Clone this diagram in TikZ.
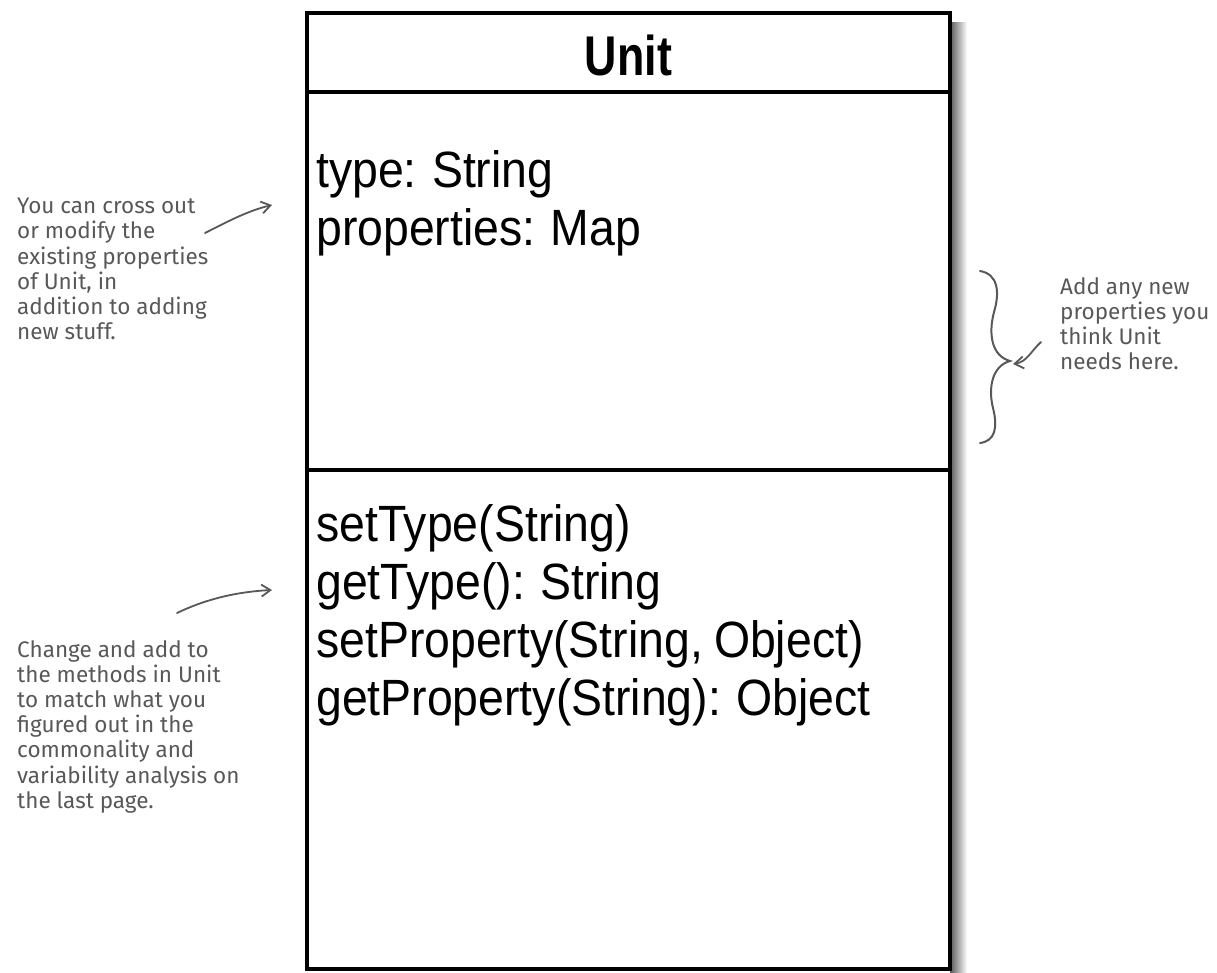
\documentclass[tikz,border=0pt]{standalone}
\usepackage{fontspec}
\setmainfont{Liberation Sans}
\newfontfamily\umlfont[FakeStretch=0.91,WordSpace=0.85]{Liberation Sans}
\newfontfamily\umltitlefont[FakeStretch=0.8]{Liberation Sans}
\newfontfamily\notefont{Fira Sans}
\usetikzlibrary{arrows.meta}
\definecolor{notegray}{RGB}{88,88,88}
\begin{document}
\begin{tikzpicture}[x=1pt,y=-1pt,>={Straight Barb[length=9pt,width=12pt]},
  member/.style={anchor=base west,inner sep=0pt,font=\umlfont\fontsize{51}{58}\selectfont},
  note/.style={anchor=north west,align=left,inner sep=0pt,text=notegray,
    font=\notefont\fontsize{22.5}{25.2}\selectfont},
  note arrow/.style={->,draw=notegray,line width=1.8pt,line cap=round}]
\useasboundingbox (0,0) rectangle (1217,972);
% class box with its shadow
\shade[left color=black!65,right color=white] (950,22) rectangle (967,972);
\fill[white] (307,13) rectangle (950,969);
\draw[line width=4pt] (307,13) rectangle (950,969);
\draw[line width=4pt] (307,92) -- (950,92);
\draw[line width=4pt] (307,470) -- (950,470);
\node[anchor=base,inner sep=0pt,font=\umltitlefont\bfseries\fontsize{56}{60}\selectfont]
  (unitTitle) at (628.5,75) {Unit};
% attributes
\foreach \t [count=\i] in {{type: String},{properties: Map}}
  \node[member] (attr\i) at (316,{129+58*\i}) {\t};
% methods
\foreach \t [count=\i] in {{setType(String)},{getType(): String},
    {setProperty(String, Object)},{getProperty(String): Object}}
  \node[member] (meth\i) at (316,{483+58*\i}) {\t};
% left notes
\node[note] (crossNote) at (17,198) {You can cross out\\or modify the\\existing properties\\of Unit, in\\addition to adding\\new stuff.};
\coordinate (crossStart) at (205,233);
\coordinate (crossEnd) at (272,205);
\draw[note arrow] (crossStart) .. controls (227,222) and (247,211) .. (crossEnd);
\node[note] (changeNote) at (17,640) {Change and add to\\the methods in Unit\\to match what you\\figured out in the\\commonality and\\variability analysis on\\the last page.};
\coordinate (changeStart) at (177,613);
\coordinate (changeEnd) at (272,590);
\draw[note arrow] (changeStart) .. controls (202,601) and (232,592) .. (changeEnd);
% right note with brace
\node[note] (addNote) at (1060,277) {Add any new\\properties you\\think Unit\\needs here.};
\draw[notegray,line width=2pt,line cap=round]
  (980,271) .. controls (998,274) and (1000,292) .. (994,312)
  .. controls (988,335) and (992,356) .. (1010,361)
  .. controls (992,366) and (988,388) .. (993,408)
  .. controls (998,428) and (995,441) .. (980,443);
\coordinate (braceStart) at (1041,342);
\coordinate (braceTip) at (1013,364);
\draw[note arrow] (braceStart) .. controls (1031,351) and (1027,362) .. (braceTip);
\end{tikzpicture}
\end{document}
